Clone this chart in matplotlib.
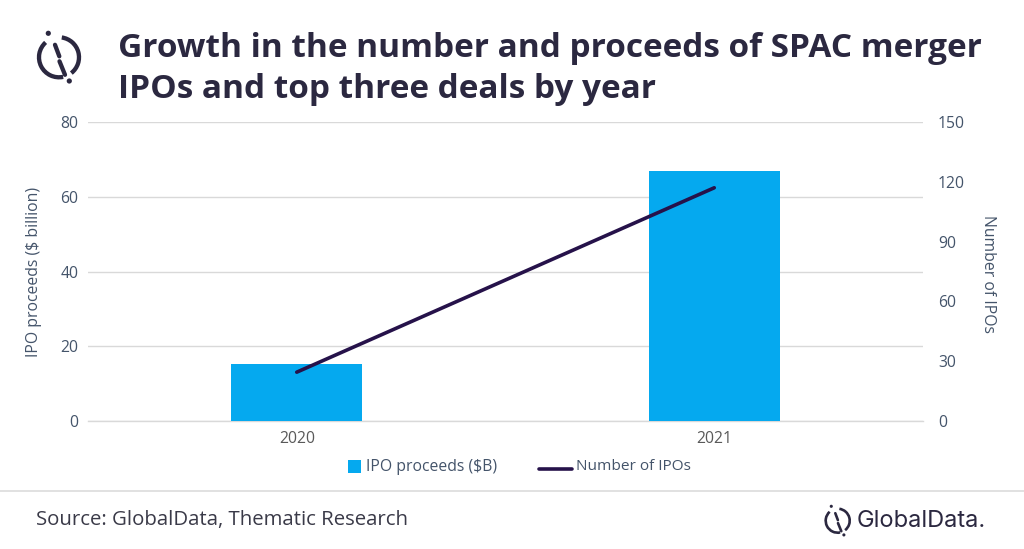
import matplotlib
matplotlib.use("Agg")
import numpy as np
from matplotlib import pyplot as plt
from matplotlib.patches import Arc, Circle, Rectangle

years = ["2020", "2021"]
proceeds = [15.3, 67]
num_ipos = [24.5, 117]
left_ticks = [0, 20, 40, 60, 80]
right_ticks = [0, 30, 60, 90, 120, 150]

NAVY = "#2b2840"
TICK = "#44546a"
BLUE = "#05a9ef"
LINE = "#26124a"
W, H = 1024, 549

plt.rcParams["font.family"] = ["Open Sans", "DejaVu Sans"]
fig = plt.figure(figsize=(W / 100, H / 100), dpi=100)

# pixel overlay for title, footer, legend and logos
over = fig.add_axes([0, 0, 1, 1], zorder=5)
over.set_xlim(0, W)
over.set_ylim(H, 0)
over.axis("off")


def logo(cx, cy, r, lw):
    # y is flipped here so the arc angles run clockwise on screen
    over.add_patch(Arc((cx, cy), 2 * r, 2 * r, theta1=-82, theta2=52, color=NAVY, lw=lw))
    over.add_patch(Arc((cx, cy), 2 * r, 2 * r, theta1=78, theta2=228, color=NAVY, lw=lw))
    s = r / 20
    over.plot([cx - 4 * s, cx + 0.3 * s], [cy - 12.5 * s, cy - 1 * s], color=NAVY, lw=lw, solid_capstyle="round")
    over.plot([cx + 0.5 * s, cx + 6 * s], [cy + 4 * s, cy + 17.5 * s], color=NAVY, lw=lw, solid_capstyle="round")
    over.add_patch(Circle((cx - 10.7 * s, cy - 24 * s), 2.6 * s, color=NAVY, lw=0))
    over.add_patch(Circle((cx + 10.3 * s, cy + 23.7 * s), 2.6 * s, color=NAVY, lw=0))


logo(59, 57.3, 20, 3.1)
logo(837.7, 520.7, 12, 1.9)

over.text(118, 57, "Growth in the number and proceeds of SPAC merger", fontsize=24,
          fontweight="bold", color=NAVY, va="baseline", ha="left")
over.text(118, 97.5, "IPOs and top three deals by year", fontsize=24,
          fontweight="bold", color=NAVY, va="baseline", ha="left")
over.plot([0, W], [491, 491], color="#dcdcdc", lw=1.2)
over.text(36, 520, "Source: GlobalData, Thematic Research", fontsize=14.7, color="#3a3a48",
          va="center", ha="left")
over.text(857, 521, "GlobalData.", fontsize=17, family=["Inter", "DejaVu Sans"], color=NAVY,
          va="center", ha="left")

# chart
ax = fig.add_axes([88 / W, 1 - 421 / H, 835 / W, 299 / H])
ax.set_xlim(-0.5, 1.5)
ax.set_ylim(0, 80)
x = np.arange(len(years))
ax.bar(x, proceeds, width=0.314, color=BLUE, zorder=3)
ax.set_xticks(x, years)
ax.set_yticks(left_ticks)
ax.grid(axis="y", color="#d9d9d9", lw=1, zorder=0)
ax.set_axisbelow(True)
for s in ["top", "left", "right"]:
    ax.spines[s].set_visible(False)
ax.spines["bottom"].set_color("#d9d9d9")
ax.spines["bottom"].set_linewidth(1)
ax.tick_params(axis="both", length=0, labelsize=11.3, labelcolor=TICK)
ax.tick_params(axis="x", pad=7.5, labelcolor="#595959")
ax.tick_params(axis="y", pad=7)
ax.set_ylabel("IPO proceeds ($ billion)", fontsize=11.3, color=TICK, labelpad=13)

ax2 = ax.twinx()
ax2.set_ylim(0, 150)
ax2.set_yticks(right_ticks)
ax2.plot(x, num_ipos, color=LINE, lw=2.6, zorder=4, solid_capstyle="round")
for s in ax2.spines.values():
    s.set_visible(False)
ax2.tick_params(axis="y", length=0, labelsize=11.3, labelcolor=TICK, pad=10.8)
ax2.set_ylabel("Number of IPOs", fontsize=11.3, color=TICK, rotation=270, labelpad=22.5, y=0.49)

# legend
over.add_patch(Rectangle((348, 460), 13, 12.5, color=BLUE, lw=0))
over.text(366, 467, "IPO proceeds ($B)", fontsize=11.3, color=TICK, va="center", ha="left")
over.plot([539, 572], [469, 469], color=LINE, lw=2.6, solid_capstyle="round")
over.text(576, 467, "Number of IPOs", fontsize=11.1, color=TICK, va="center", ha="left")

fig.savefig("out.png", dpi=100)
